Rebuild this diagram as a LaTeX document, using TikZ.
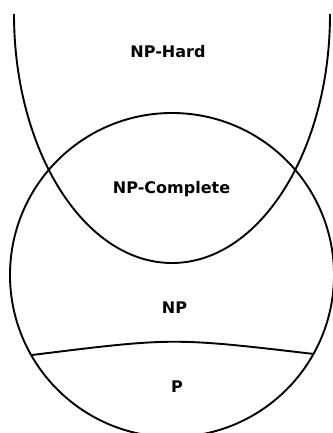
\documentclass[tikz,border=0pt]{standalone}
\usepackage{fontspec}
\setmainfont{DejaVu Sans}

\begin{document}
\begin{tikzpicture}[x=1pt, y=1pt, line width=1.9pt,
        setname/.style={anchor=base, font=\bfseries\fontsize{16}{18}\selectfont}]
        \useasboundingbox (0, 0) rectangle (332, -433);
        \draw (14, -14) arc[start angle=180, end angle=360, x radius=158, y radius=249];
        \draw (172, -275) circle[radius=162];
        \draw (32, -355) .. controls (173, -337.5) .. (314, -354);
        \node[setname] (nphard) at (168, -58) {NP-Hard};
        \node[setname] (npc) at (171.5, -193) {NP-Complete};
        \node[setname] (np) at (174.5, -313) {NP};
        \node[setname] (p) at (177, -392) {P};
    \end{tikzpicture}
\end{document}
